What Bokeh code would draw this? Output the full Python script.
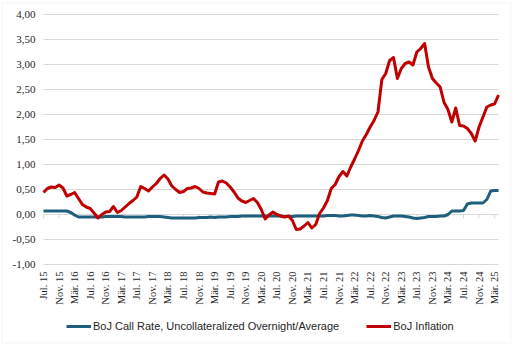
import numpy as np
from bokeh.plotting import figure
from bokeh.models import Legend, LegendItem, Range1d, BoxAnnotation
from bokeh.embed import file_html
from bokeh.resources import INLINE

# Monthly data, Jul 2015 .. Apr 2025
call_rate = [
    0.07, 0.07, 0.07, 0.07, 0.07, 0.07, 0.07, 0.04, -0.01, -0.05,   # Jul15-Apr16
    -0.05, -0.05, -0.05, -0.05, -0.05, -0.05, -0.04, -0.04, -0.04, -0.04,  # May16-Feb17
    -0.04, -0.05, -0.05, -0.05, -0.05, -0.05, -0.05, -0.04, -0.04, -0.04,  # Mar17-Dec17
    -0.04, -0.05, -0.06, -0.07, -0.07, -0.07, -0.07, -0.07, -0.07, -0.07,  # Jan18-Oct18
    -0.06, -0.06, -0.06, -0.05, -0.06, -0.05, -0.05, -0.05, -0.04, -0.04,  # Nov18-Aug19
    -0.04, -0.03, -0.03, -0.03, -0.03, -0.03, -0.03, -0.03, -0.03, -0.03,  # Sep19-Jun20
    -0.03, -0.03, -0.04, -0.04, -0.04, -0.03, -0.03, -0.03, -0.03, -0.03,  # Jul20-Apr21
    -0.03, -0.03, -0.03, -0.02, -0.02, -0.02, -0.03, -0.03, -0.02, -0.01,  # May21-Feb22
    -0.01, -0.02, -0.03, -0.03, -0.02, -0.03, -0.04, -0.06, -0.07, -0.05,  # Mar22-Dec22
    -0.03, -0.03, -0.03, -0.04, -0.05, -0.07, -0.08, -0.07, -0.06, -0.04,  # Jan23-Oct23
    -0.04, -0.04, -0.03, -0.03, 0.00, 0.07, 0.07, 0.07, 0.08, 0.21,      # Nov23-Aug24
    0.23, 0.23, 0.23, 0.23, 0.30, 0.47, 0.48, 0.48,                      # Sep24-Apr25
]
inflation = [
    0.44, 0.52, 0.55, 0.54, 0.59, 0.53, 0.37, 0.40, 0.44, 0.32,   # Jul15-Apr16
    0.20, 0.15, 0.12, 0.03, -0.07, 0.00, 0.05, 0.06, 0.16, 0.04,  # May16-Feb17
    0.08, 0.15, 0.22, 0.28, 0.35, 0.56, 0.52, 0.47, 0.55, 0.62,   # Mar17-Dec17
    0.72, 0.79, 0.71, 0.57, 0.50, 0.44, 0.46, 0.52, 0.53, 0.56,   # Jan18-Oct18
    0.52, 0.45, 0.43, 0.42, 0.41, 0.65, 0.67, 0.63, 0.55, 0.45,   # Nov18-Aug19
    0.33, 0.27, 0.24, 0.28, 0.32, 0.24, 0.10, -0.09, -0.01, 0.05, # Sep19-Jun20
    0.00, -0.03, -0.05, -0.03, -0.12, -0.30, -0.29, -0.23, -0.16, -0.27,  # Jul20-Apr21
    -0.20, 0.02, 0.13, 0.28, 0.52, 0.60, 0.76, 0.86, 0.77, 0.95,  # May21-Feb22
    1.11, 1.28, 1.47, 1.60, 1.75, 1.88, 2.05, 2.70, 2.82, 3.08,   # Mar22-Dec22
    3.14, 2.72, 2.92, 3.02, 3.05, 2.99, 3.25, 3.32, 3.42, 2.95,   # Jan23-Oct23
    2.72, 2.63, 2.55, 2.24, 2.10, 1.85, 2.13, 1.78, 1.77, 1.72,   # Nov23-Aug24
    1.62, 1.47, 1.75, 1.95, 2.15, 2.19, 2.21, 2.39,               # Sep24-Apr25
]
x_tick_labels = [
    "Jul. 15", "Nov. 15", "Mär. 16", "Jul. 16", "Nov. 16", "Mär. 17",
    "Jul. 17", "Nov. 17", "Mär. 18", "Jul. 18", "Nov. 18", "Mär. 19",
    "Jul. 19", "Nov. 19", "Mär. 20", "Jul. 20", "Nov. 20", "Mär. 21",
    "Jul. 21", "Nov. 21", "Mär. 22", "Jul. 22", "Nov. 22", "Mär. 23",
    "Jul. 23", "Nov. 23", "Mär. 24", "Jul. 24", "Nov. 24", "Mär. 25",
]
x_tick_pos = [4 * k for k in range(len(x_tick_labels))]
y_ticks = [-1.0, -0.5, 0.0, 0.5, 1.0, 1.5, 2.0, 2.5, 3.0, 3.5, 4.0]
y_tick_labels = ["-1,00", "-0,50", "0,00", "0,50", "1,00", "1,50",
                 "2,00", "2,50", "3,00", "3,50", "4,00"]

series_names = ["BoJ Call Rate, Uncollateralized Overnight/Average", "BoJ Inflation"]

FONT = "Liberation Sans"
TXT = "#262626"
GRID = "#d9d9d9"
BLUE = "#1D5F7C"
RED = "#C00000"

# Layout in canvas pixels: plot area 43..498 (x), 14..264 (y); the frame covers the canvas
W, H = 513, 345
PL, PR, PT, PB = 43, 498, 14, 264
n = len(inflation)
months = np.arange(n)
mx = (PR - PL) / (n - 1)
my = (PB - PT) / (y_ticks[-1] - y_ticks[0])
x_range = Range1d(-PL / mx, (n - 1) + (W - PR) / mx)
y_range = Range1d(y_ticks[0] - (H - PB) / my, y_ticks[-1] + PT / my)

p = figure(width=W, height=H, output_backend="svg", toolbar_location=None,
           x_range=x_range, y_range=y_range,
           x_axis_location=None, y_axis_location=None,
           min_border=0)
p.outline_line_color = None
p.background_fill_color = "white"
p.border_fill_color = "white"
p.grid.visible = False

# horizontal gridlines across the plot area
p.segment(x0=[0] * len(y_ticks), y0=y_ticks, x1=[n - 1] * len(y_ticks), y1=y_ticks,
          line_color=GRID, line_width=1)

# value axis labels
p.text(x=[0] * len(y_ticks), y=y_ticks, text=y_tick_labels, x_offset=-8,
       text_align="right", text_baseline="middle",
       text_font="Liberation Sans", text_font_size="11px", text_color=TXT)

# category tick marks on zero line
p.segment(x0=x_tick_pos, y0=[0.0] * len(x_tick_pos), x1=x_tick_pos,
          y1=[-0.07] * len(x_tick_pos), line_color=GRID, line_width=1)

# category labels (low position, rotated)
p.text(x=x_tick_pos, y=[y_ticks[0]] * len(x_tick_pos), text=x_tick_labels,
       angle=np.pi / 2, text_align="right", text_baseline="middle", y_offset=7,
       text_font="Liberation Sans", text_font_size="10.5px", text_color=TXT)

r_blue = p.line(months, call_rate, line_color=BLUE, line_width=3, line_join="round")
r_red = p.line(months, inflation, line_color=RED, line_width=3, line_join="round")

legend = Legend(items=[LegendItem(label=series_names[0], renderers=[r_blue]),
                       LegendItem(label=series_names[1], renderers=[r_red])],
                location=(66, 13), orientation="horizontal",
                border_line_color=None, background_fill_alpha=0,
                glyph_width=25, glyph_height=12, label_height=12,
                label_standoff=2, spacing=27, padding=0, margin=0,
                label_text_font=FONT, label_text_font_size="11px",
                label_text_color=TXT)
p.add_layout(legend, "center")

# chart border
p.add_layout(BoxAnnotation(left=1.5, right=W - 2.5, top=2.5, bottom=H - 2.5,
                           left_units="screen", right_units="screen",
                           top_units="screen", bottom_units="screen",
                           fill_alpha=0, line_color=GRID, line_width=1))

open("out.html", "w").write(file_html(p, INLINE))
